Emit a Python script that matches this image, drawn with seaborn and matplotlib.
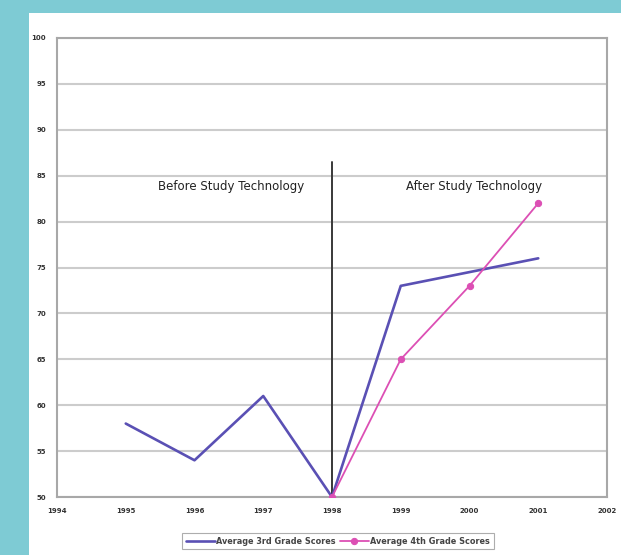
import matplotlib
matplotlib.use("Agg")
import matplotlib.pyplot as plt
from matplotlib.patches import Rectangle
import pandas as pd
import seaborn as sns

# Score series
years_3rd = [1995, 1996, 1997, 1998, 1999, 2001]
scores_3rd = [58, 54, 61, 50, 73, 76]
years_4th = [1998, 1999, 2000, 2001]
scores_4th = [50, 65, 73, 82]

series_names = ["Average 3rd Grade Scores", "Average 4th Grade Scores"]
x_ticks = list(range(1994, 2003))
y_ticks = list(range(50, 101, 5))

divider_year = 1998
divider_top = 86.5
phase_labels = ["Before Study Technology", "After Study Technology"]
phase_label_x = [1996.53, 2000.06]
phase_label_y = 83.8

df3 = pd.DataFrame({"year": years_3rd, "score": scores_3rd, "series": series_names[0]})
df4 = pd.DataFrame({"year": years_4th, "score": scores_4th, "series": series_names[1]})

sns.set_style("white")
plt.rcParams["font.family"] = ["DejaVu Sans"]

fig = plt.figure(figsize=(6.21, 5.55), dpi=100)
fig.patch.set_facecolor("#7ecbd4")
fig.add_artist(Rectangle((29 / 621, 0), 1, (555 - 13) / 555,
                         transform=fig.transFigure, facecolor="white",
                         edgecolor="none", zorder=0))

ax = fig.add_axes([57 / 621, 1 - 497 / 555, (607 - 57) / 621, (497 - 38) / 555])
ax.set_facecolor("white")

blue = "#5a50b4"
pink = "#dc4fb4"

sns.lineplot(data=df3, x="year", y="score", ax=ax, color=blue, lw=1.9,
             label=series_names[0], zorder=4)
sns.lineplot(data=df4, x="year", y="score", ax=ax, color=pink, lw=1.3,
             marker="o", markersize=4.5, markeredgecolor=pink,
             label=series_names[1], zorder=5)

# divider between the two phases
ax.plot([divider_year, divider_year], [50, divider_top], color="#383838", lw=1.4, zorder=3)
for txt, xv in zip(phase_labels, phase_label_x):
    ax.text(xv, phase_label_y, txt, ha="center", va="center", fontsize=8.5,
            color="#222222")

ax.set_xlim(1994, 2002)
ax.set_ylim(50, 100)
ax.set_xticks(x_ticks)
ax.set_yticks(y_ticks)
ax.set_xticklabels([str(v) for v in x_ticks])
ax.set_yticklabels([str(v) for v in y_ticks])
ax.tick_params(axis="both", labelsize=5, colors="#333333", length=2, width=0.6,
               pad=6)
ax.tick_params(axis="y", length=0, pad=8)
for lab in ax.get_xticklabels() + ax.get_yticklabels():
    lab.set_fontweight("bold")
ax.yaxis.grid(True, color="#cccccc", lw=1.5)
ax.set_axisbelow(True)
ax.set_xlabel("")
ax.set_ylabel("")
for s in ax.spines.values():
    s.set_color("#a8a8a8")
    s.set_linewidth(1.5)

leg = ax.legend(loc="center", bbox_to_anchor=(0.511, -0.096), ncol=2,
                prop={"size": 5.9, "weight": "bold"},
                frameon=True, fancybox=False, edgecolor="#999999",
                handlelength=3.5, handletextpad=0.2, columnspacing=0.5,
                borderpad=0.45)
leg.get_frame().set_linewidth(0.8)
for t in leg.get_texts():
    t.set_color("#444444")

fig.savefig("out.png", dpi=100, facecolor=fig.get_facecolor())
